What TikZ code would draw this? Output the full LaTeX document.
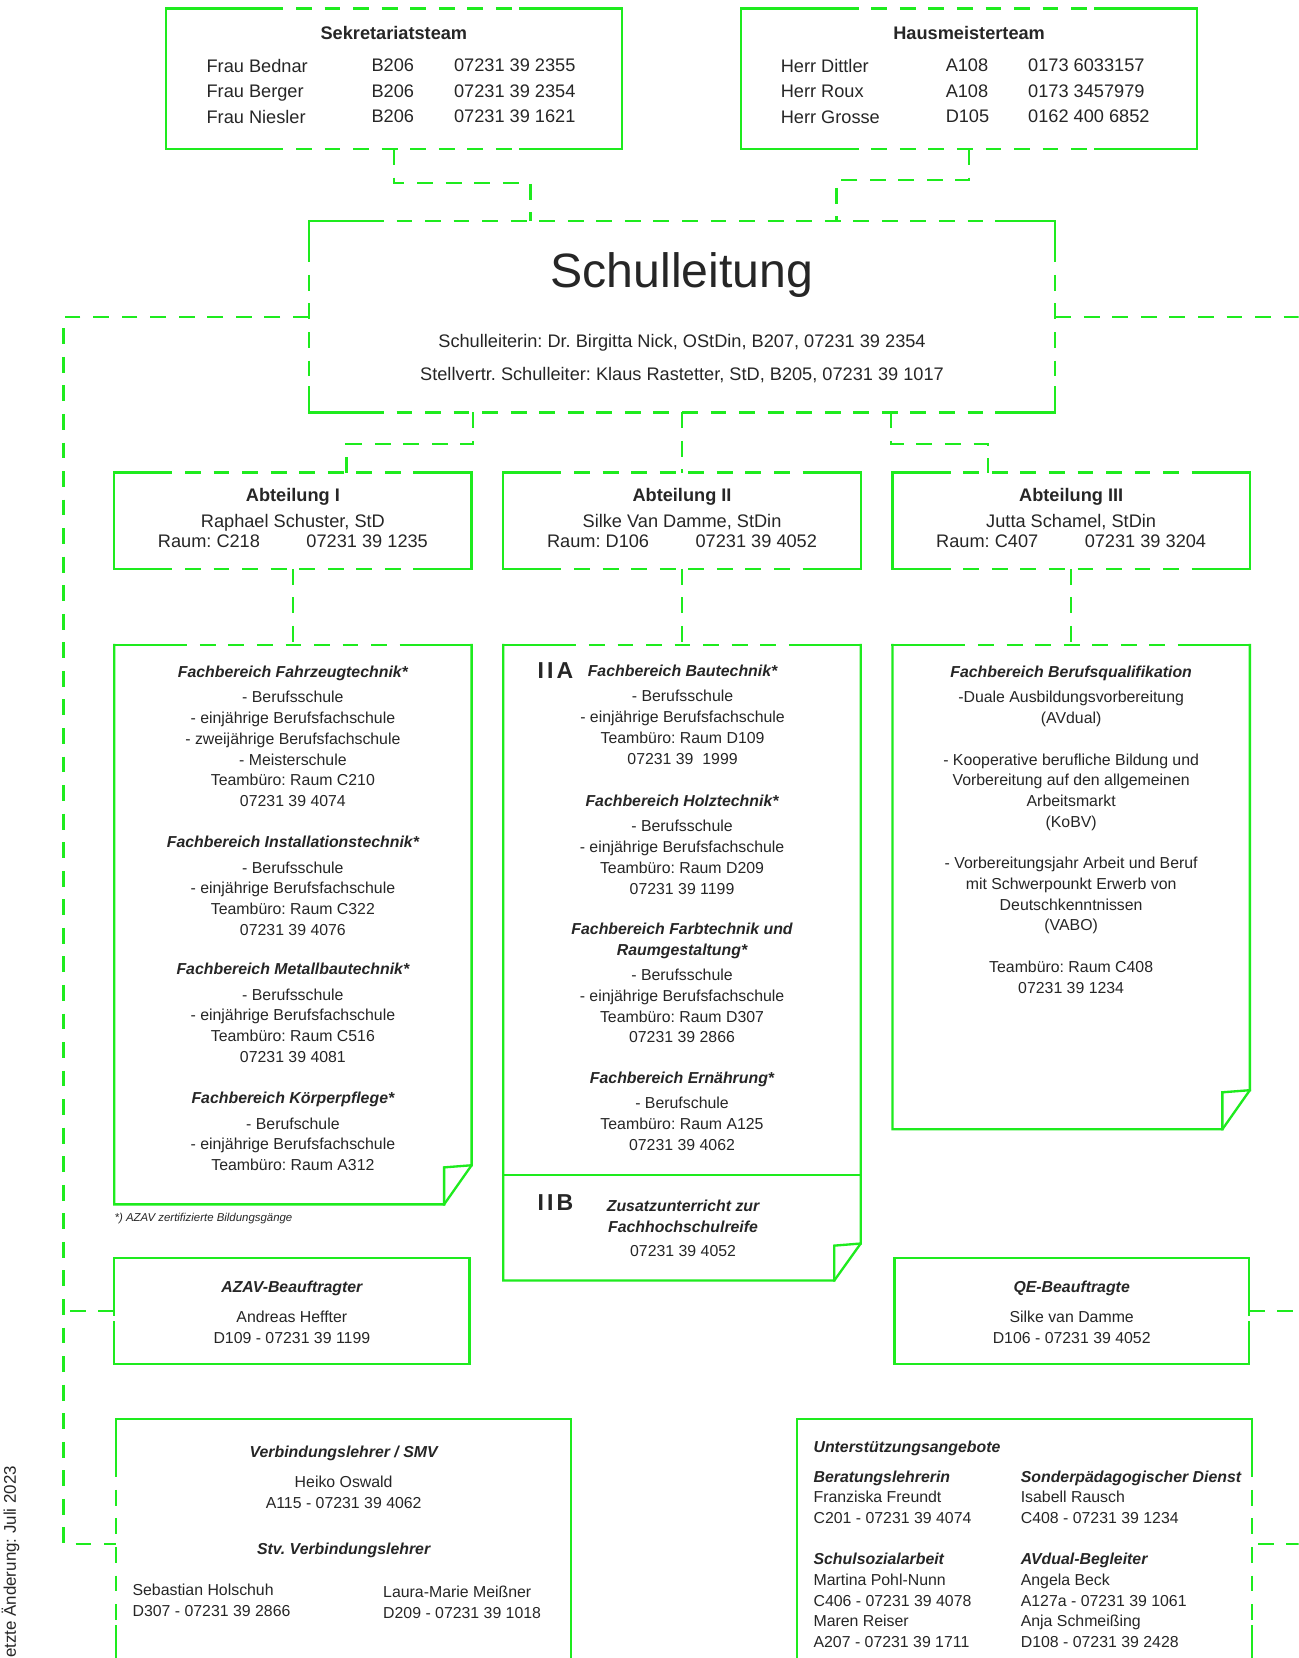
\documentclass[tikz,border=0pt]{standalone}
\usepackage{fontspec}
\setmainfont{Liberation Sans}
\usetikzlibrary{positioning, calc}
\frenchspacing

\definecolor{orggreen}{RGB}{30,235,30}
\definecolor{orgtext}{RGB}{38,38,38}

\tikzset{
  boxline/.style={draw=orggreen, line width=1.1pt, line cap=rect},
  dashline/.style={draw=orggreen, line width=1.1pt, dash pattern=on 7.5pt off 6pt},
  orgbox/.style 2 args={anchor=north west, inner sep=0pt, outer sep=0pt,
    minimum width=#1*0.5pt, minimum height=#2*0.5pt},
  bigtext/.style={inner sep=0pt, text=orgtext, font=\fontsize{8.6}{12}\selectfont},
  bighead/.style={inner sep=0pt, text=orgtext, font=\fontsize{8.6}{12}\selectfont\bfseries},
  smalltext/.style={inner sep=0pt, text=orgtext, align=center, font=\fontsize{7.5}{9.8}\selectfont},
  roman/.style={inner sep=0pt, anchor=west, text=orgtext, font=\fontsize{10.9}{12}\selectfont\bfseries}
}

% edge with solid ends and a dashed middle
\newcommand{\dashside}[3]{%
  \draw[boxline] (#1) -- ($(#1)!#3!(#2)$);
  \draw[dashline] ($(#1)!#3!(#2)$) -- ($(#2)!#3!(#1)$);
  \draw[boxline] ($(#2)!#3!(#1)$) -- (#2);
}
\newcommand{\fbhead}[1]{{\bfseries\itshape #1}}

\begin{document}
\begin{tikzpicture}[x=0.5pt, y=-0.5pt]
\useasboundingbox (0,0) rectangle (1228,1568);
\clip (0,0) rectangle (1228,1568);
\fill[white] (0,0) rectangle (1228,1568);

% boxes
\node[orgbox={431}{133}] (sek) at (157,8) {};
\node[orgbox={431}{133}] (haus) at (701,8) {};
\node[orgbox={706}{181}] (schul) at (292,209) {};
\node[orgbox={338}{91}] (abt1) at (108,447) {};
\node[orgbox={338}{91}] (abt2) at (476,447) {};
\node[orgbox={338}{91}] (abt3) at (844,447) {};
\node[orgbox={338}{529}] (fb1) at (108,610) {};
\node[orgbox={338}{601}] (fb2) at (476,610) {};
\node[orgbox={338}{458}] (fb3) at (844,610) {};
\node[orgbox={336}{100}] (azav) at (108,1190) {};
\node[orgbox={335}{100}] (qe) at (846,1190) {};
\node[orgbox={430}{236}] (verb) at (110,1342) {};
\node[orgbox={430}{236}] (unter) at (754,1342) {};

% Sekretariatsteam
\draw[boxline] (sek.north west) -- (sek.south west) (sek.north east) -- (sek.south east);
\dashside{sek.north west}{sek.north east}{48pt}
\dashside{sek.south west}{sek.south east}{48pt}
\node[bighead, below=8.3pt of sek.north] (sektitle) {Sekretariatsteam};
\node[bigtext, align=left, anchor=north west] (sekname) at (195,55.6) {Frau Bednar\\Frau Berger\\Frau Niesler};
\node[bigtext, align=left, anchor=north west] (sekroom) at (351,55.6) {B206\\B206\\B206};
\node[bigtext, align=left, anchor=north west] (sekphone) at (429,55.6) {07231 39 2355\\07231 39 2354\\07231 39 1621};

% Hausmeisterteam
\draw[boxline] (haus.north west) -- (haus.south west) (haus.north east) -- (haus.south east);
\dashside{haus.north west}{haus.north east}{48pt}
\dashside{haus.south west}{haus.south east}{48pt}
\node[bighead, below=8.3pt of haus.north] (haustitle) {Hausmeisterteam};
\node[bigtext, align=left, anchor=north west] (hausname) at (738,55.6) {Herr Dittler\\Herr Roux\\Herr Grosse};
\node[bigtext, align=left, anchor=north west] (hausroom) at (894,55.6) {A108\\A108\\D105};
\node[bigtext, align=left, anchor=north west] (hausphone) at (972,55.6) {0173 6033157\\0173 3457979\\0162 400 6852};

% Schulleitung
\dashside{schul.north west}{schul.north east}{28pt}
\dashside{schul.south west}{schul.south east}{28pt}
\dashside{schul.north west}{schul.south west}{12pt}
\dashside{schul.north east}{schul.south east}{12pt}
\node[inner sep=0pt, text=orgtext, font=\fontsize{22.8}{27}\selectfont, below=14.5pt of schul.north] (schultitle) {Schulleitung};
\node[bigtext, align=center, font=\fontsize{8.6}{15.5}\selectfont, anchor=north] (schulnames) at (645,315.6)
  {Schulleiterin: Dr. Birgitta Nick, OStDin, B207, 07231 39 2354\\Stellvertr. Schulleiter: Klaus Rastetter, StD, B205, 07231 39 1017};

% Abteilungen
\draw[boxline] (abt1.north west) -- (abt1.south west) (abt1.north east) -- (abt1.south east);
\dashside{abt1.north west}{abt1.north east}{20pt}
\dashside{abt1.south west}{abt1.south east}{20pt}
\node[bigtext, align=center, font=\fontsize{8.6}{9.6}\selectfont, below=7.3pt of abt1.north] (abt1text)
  {\textbf{Abteilung I}\\[2.4pt]Raphael Schuster, StD\\Raum: C218\hspace{22pt}07231 39 1235};
\draw[boxline] (abt2.north west) -- (abt2.south west) (abt2.north east) -- (abt2.south east);
\dashside{abt2.north west}{abt2.north east}{20pt}
\dashside{abt2.south west}{abt2.south east}{20pt}
\node[bigtext, align=center, font=\fontsize{8.6}{9.6}\selectfont, below=7.3pt of abt2.north] (abt2text)
  {\textbf{Abteilung II}\\[2.4pt]Silke Van Damme, StDin\\Raum: D106\hspace{22pt}07231 39 4052};
\draw[boxline] (abt3.north west) -- (abt3.south west) (abt3.north east) -- (abt3.south east);
\dashside{abt3.north west}{abt3.north east}{20pt}
\dashside{abt3.south west}{abt3.south east}{20pt}
\node[bigtext, align=center, font=\fontsize{8.6}{9.6}\selectfont, below=7.3pt of abt3.north] (abt3text)
  {\textbf{Abteilung III}\\[2.4pt]Jutta Schamel, StDin\\Raum: C407\hspace{22pt}07231 39 3204};

% Fachbereiche Abteilung I
\dashside{fb1.north west}{fb1.north east}{27pt}
\draw[boxline] (fb1.north east) -- ($(fb1.south east)+(0,-37)$) -- ($(fb1.south east)+(-26,0)$) -- (fb1.south west) -- (fb1.north west);
\draw[boxline] ($(fb1.south east)+(0,-37)$) -- ($(fb1.south east)+(-26,-35)$) -- ($(fb1.south east)+(-26,0)$);
\node[smalltext, anchor=north] (fb1a) at (277,629.5) {\fbhead{Fachbereich Fahrzeugtechnik*}\\[2.2pt]- Berufsschule\\- einjährige Berufsfachschule\\- zweijährige Berufsfachschule\\- Meisterschule\\Teambüro: Raum C210\\07231 39 4074};
\node[smalltext, anchor=north] (fb1b) at (277,790.5) {\fbhead{Fachbereich Installationstechnik*}\\[2.2pt]- Berufsschule\\- einjährige Berufsfachschule\\Teambüro: Raum C322\\07231 39 4076};
\node[smalltext, anchor=north] (fb1c) at (277,910.5) {\fbhead{Fachbereich Metallbautechnik*}\\[2.2pt]- Berufsschule\\- einjährige Berufsfachschule\\Teambüro: Raum C516\\07231 39 4081};
\node[smalltext, anchor=north] (fb1d) at (277,1032.5) {\fbhead{Fachbereich Körperpflege*}\\[2.2pt]- Berufschule\\- einjährige Berufsfachschule\\Teambüro: Raum A312};
\node[inner sep=0pt, anchor=west, text=orgtext, font=\fontsize{5.4}{6}\selectfont\itshape] (footnote) at (108,1152) {*) AZAV zertifizierte Bildungsgänge};

% Fachbereiche Abteilung II
\dashside{fb2.north west}{fb2.north east}{27pt}
\draw[boxline] (fb2.north east) -- ($(fb2.south east)+(0,-35)$) -- ($(fb2.south east)+(-25,0)$) -- (fb2.south west) -- (fb2.north west);
\draw[boxline] ($(fb2.south east)+(0,-35)$) -- ($(fb2.south east)+(-25,-33)$) -- ($(fb2.south east)+(-25,0)$);
\draw[boxline] ($(fb2.north west)+(0,501)$) -- ($(fb2.north east)+(0,501)$);
\node[roman] (iia) at (508,634) {I\kern1.5pt I\kern1.5pt A};
\node[smalltext, anchor=north] (fb2a) at (645.5,628.5) {\fbhead{Fachbereich Bautechnik*}\\[2.2pt]- Berufsschule\\- einjährige Berufsfachschule\\Teambüro: Raum D109\\07231 39\ \ 1999};
\node[smalltext, anchor=north] (fb2b) at (645,751.5) {\fbhead{Fachbereich Holztechnik*}\\[2.2pt]- Berufsschule\\- einjährige Berufsfachschule\\Teambüro: Raum D209\\07231 39 1199};
\node[smalltext, anchor=north] (fb2c) at (645,872.5) {\fbhead{Fachbereich Farbtechnik und}\\\fbhead{Raumgestaltung*}\\[2.2pt]- Berufsschule\\- einjährige Berufsfachschule\\Teambüro: Raum D307\\07231 39 2866};
\node[smalltext, anchor=north] (fb2d) at (645,1013.5) {\fbhead{Fachbereich Ernährung*}\\[2.2pt]- Berufschule\\Teambüro: Raum A125\\07231 39 4062};
\node[roman] (iib) at (508,1137) {I\kern1.5pt I\kern1.5pt B};
\node[smalltext, anchor=north] (fb2e) at (646,1134.5) {\fbhead{Zusatzunterricht zur}\\\fbhead{Fachhochschulreife}\\[1.7pt]07231 39 4052};

% Fachbereich Abteilung III
\dashside{fb3.north west}{fb3.north east}{27pt}
\draw[boxline] (fb3.north east) -- ($(fb3.south east)+(0,-37)$) -- ($(fb3.south east)+(-26,0)$) -- (fb3.south west) -- (fb3.north west);
\draw[boxline] ($(fb3.south east)+(0,-37)$) -- ($(fb3.south east)+(-26,-35)$) -- ($(fb3.south east)+(-26,0)$);
\node[smalltext, anchor=north] (fb3a) at (1013,629.5) {\fbhead{Fachbereich Berufsqualifikation}\\[2.2pt]-Duale Ausbildungsvorbereitung\\(AVdual)\\[9.8pt]- Kooperative berufliche Bildung und\\Vorbereitung auf den allgemeinen\\Arbeitsmarkt\\(KoBV)\\[9.8pt]- Vorbereitungsjahr Arbeit und Beruf\\mit Schwerpounkt Erwerb von\\Deutschkenntnissen\\(VABO)\\[9.8pt]Teambüro: Raum C408\\07231 39 1234};

% Beauftragte
\draw[boxline] (azav.north west) -- (azav.north east) -- (azav.south east) -- (azav.south west);
\dashside{azav.north west}{azav.south west}{20pt}
\node[smalltext, anchor=north] (azavtext) at (276,1211.5) {\fbhead{AZAV-Beauftragter}\\[4.2pt]Andreas Heffter\\D109 - 07231 39 1199};
\draw[boxline] (qe.north east) -- (qe.north west) -- (qe.south west) -- (qe.south east);
\dashside{qe.north east}{qe.south east}{20pt}
\node[smalltext, anchor=north] (qetext) at (1013.5,1211.5) {\fbhead{QE-Beauftragte}\\[4.2pt]Silke van Damme\\D106 - 07231 39 4052};

% Verbindungslehrer
\draw[boxline] (verb.north west) -- (verb.north east) -- (verb.south east) -- (verb.south west);
\dashside{verb.north west}{verb.south west}{20pt}
\node[smalltext, anchor=north] (verbtext) at (325,1367.5) {\fbhead{Verbindungslehrer / SMV}\\[4.2pt]Heiko Oswald\\A115 - 07231 39 4062};
\node[smalltext, anchor=north] (stvtext) at (325,1458.5) {\fbhead{Stv. Verbindungslehrer}};
\node[smalltext, align=left, anchor=north west] (stvleft) at (125,1497.5) {Sebastian Holschuh\\D307 - 07231 39 2866};
\node[smalltext, align=left, anchor=north west] (stvright) at (362,1499.5) {Laura-Marie Meißner\\D209 - 07231 39 1018};

% Unterstuetzungsangebote
\draw[boxline] (unter.north east) -- (unter.north west) -- (unter.south west) -- (unter.south east);
\dashside{unter.north east}{unter.south east}{20pt}
\node[smalltext, align=left, anchor=north west] (untertitle) at (769,1362.5) {\fbhead{Unterstützungsangebote}};
\node[smalltext, align=left, anchor=north west] (unter1) at (769,1390.5) {\fbhead{Beratungslehrerin}\\Franziska Freundt\\C201 - 07231 39 4074};
\node[smalltext, align=left, anchor=north west] (unter2) at (769,1468.5) {\fbhead{Schulsozialarbeit}\\Martina Pohl-Nunn\\C406 - 07231 39 4078\\Maren Reiser\\A207 - 07231 39 1711};
\node[smalltext, align=left, anchor=north west] (unter3) at (965,1390.5) {\fbhead{Sonderpädagogischer Dienst}\\Isabell Rausch\\C408 - 07231 39 1234};
\node[smalltext, align=left, anchor=north west] (unter4) at (965,1468.5) {\fbhead{AVdual-Begleiter}\\Angela Beck\\A127a - 07231 39 1061\\Anja Schmeißing\\D108 - 07231 39 2428};

% connectors
\coordinate (sl1) at ($(schul.north west)!0.297!(schul.north east)$);
\coordinate (sl2) at ($(schul.north west)!0.707!(schul.north east)$);
\coordinate (sl3) at ($(schul.south west)!0.22!(schul.south east)$);
\coordinate (sl5) at ($(schul.south west)!0.78!(schul.south east)$);
\coordinate (a1in) at ($(abt1.north west)!0.65!(abt1.north east)$);
\coordinate (a3in) at ($(abt3.north west)!0.267!(abt3.north east)$);
\draw[dashline] (sek.south) -- ++(0,32) -| (sl1);
\draw[dashline] (haus.south) -- ++(0,29) -| (sl2);
\draw[dashline] (sl3) -- ++(0,30) -| (a1in);
\draw[dashline] (schul.south) -- (abt2.north);
\draw[dashline] (sl5) -- ++(0,30) -| (a3in);
\draw[dashline] (abt1.south) -- (fb1.north);
\draw[dashline] (abt2.south) -- (fb2.north);
\draw[dashline] (abt3.south) -- (fb3.north);

% side lines
\coordinate (lbus) at (60,1460);
\coordinate (rbus) at (1250,1460);
\draw[dashline] (schul.west) -| (lbus) -- (verb.west);
\draw[dashline] (azav.west) -- (azav.west -| lbus);
\draw[dashline] (schul.east) -| (rbus) -- (unter.east);
\draw[dashline] (qe.east) -- (qe.east -| rbus);

% stand
\node[inner sep=0pt, rotate=90, anchor=east, text=orgtext, font=\fontsize{8}{10}\selectfont] (stand) at (10,1386) {etzte Änderung: Juli 2023};
\end{tikzpicture}
\end{document}
